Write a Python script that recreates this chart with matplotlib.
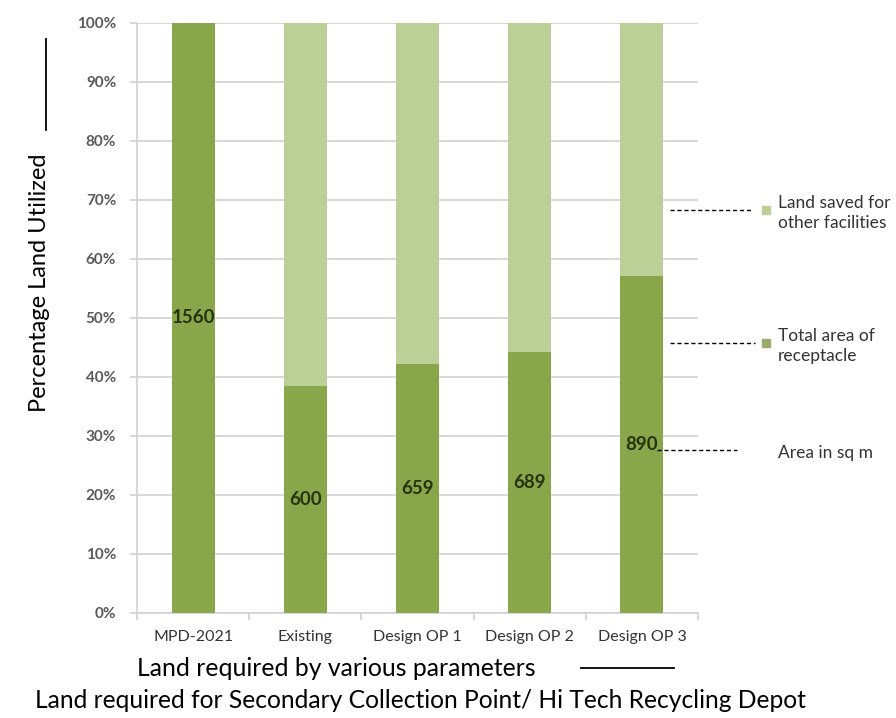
import matplotlib
matplotlib.use("Agg")
import matplotlib.pyplot as plt
import numpy as np

plt.rcParams['font.family'] = ['Lato', 'DejaVu Sans']

# Land required (sq m) by each parameter
categories = ["MPD-2021", "Existing", "Design OP 1", "Design OP 2", "Design OP 3"]
area_sqm = [1560, 600, 659, 689, 890]
total_land = 1560

used_pct = [a / total_land * 100 for a in area_sqm]
saved_pct = [100 - u for u in used_pct]

dark_green = "#89a64a"
light_green = "#bccf97"
grid_col = "#d4d4d4"

W, H = 896, 718
fig = plt.figure(figsize=(W / 100, H / 100), dpi=100)

def fx(px):
    return px / W

def fy(py):
    return 1 - py / H

ax_l, ax_r, ax_t, ax_b = 137, 698, 22.5, 613
ax = fig.add_axes([fx(ax_l), fy(ax_b), fx(ax_r - ax_l), fy(ax_t) - fy(ax_b)])

x = np.arange(len(categories))
bw = 0.385
ax.bar(x, used_pct, width=bw, color=dark_green, zorder=3)
ax.bar(x, saved_pct, width=bw, bottom=used_pct, color=light_green, zorder=3)

for xi, u, a in zip(x, used_pct, area_sqm):
    ax.text(xi, u / 2, f"{a}", ha="center", va="center", fontsize=13.5,
            fontweight="bold", color="#26330f", zorder=4)

ax.set_xlim(-0.5, len(categories) - 0.5)
ax.set_ylim(0, 100)
ax.set_yticks(np.arange(0, 101, 10))
ax.set_yticklabels([f"{v}%" for v in range(0, 101, 10)], fontsize=11,
                   fontweight="bold", color="#5a5a5a")
ax.yaxis.grid(True, color=grid_col, linewidth=1.3, zorder=0)
ax.set_xticks(x)
ax.set_xticklabels(categories, fontsize=11.5, color="#333333")
ax.set_xticks(np.arange(-0.5, len(categories), 1), minor=True)
ax.tick_params(axis="x", which="major", length=0, pad=12)
ax.tick_params(axis="x", which="minor", length=5, color=grid_col, width=1.3)
ax.tick_params(axis="y", length=5, color=grid_col, width=1.3, pad=10)
for s in ["top", "right"]:
    ax.spines[s].set_visible(False)
for s in ["left", "bottom"]:
    ax.spines[s].set_color(grid_col)
    ax.spines[s].set_linewidth(1.3)

# Axis titles
fig.text(fx(40), fy(283), "Percentage Land Utilized", rotation=90,
         ha="center", va="center", fontsize=17, color="black")
fig.add_artist(plt.Line2D([fx(46), fx(46)], [fy(39), fy(130)],
                          color="black", linewidth=1.3))
fig.text(fx(336), fy(669), "Land required by various parameters",
         ha="center", va="center", fontsize=17.8, color="black")
fig.add_artist(plt.Line2D([fx(581), fx(674)], [fy(668), fy(668)],
                          color="black", linewidth=1.3))
fig.text(fx(420), fy(701), "Land required for Secondary Collection Point/ Hi Tech Recycling Depot",
         ha="center", va="center", fontsize=17.7, color="black")

# Side notes with leader lines
notes = [
    ("Land saved for\nother facilities", 210, 670, 752, light_green),
    ("Total area of\nreceptacle", 343, 670, 755, "#9aab6e"),
    ("Area in sq m", 450, 657, 737, None),
]
for label, py, x0, x1, sq in notes:
    fig.add_artist(plt.Line2D([fx(x0), fx(x1)], [fy(py), fy(py)], color="black",
                              linewidth=1.0, linestyle=(0, (3, 2))))
    if sq:
        fig.patches.append(plt.Rectangle((fx(762), fy(py + 4)), fx(8), fy(0) - fy(8),
                                         transform=fig.transFigure, color=sq))
    fig.text(fx(778), fy(py + 3), label, ha="left", va="center", fontsize=12.5,
             color="#333333", linespacing=1.3)

fig.savefig("out.png", dpi=100)
